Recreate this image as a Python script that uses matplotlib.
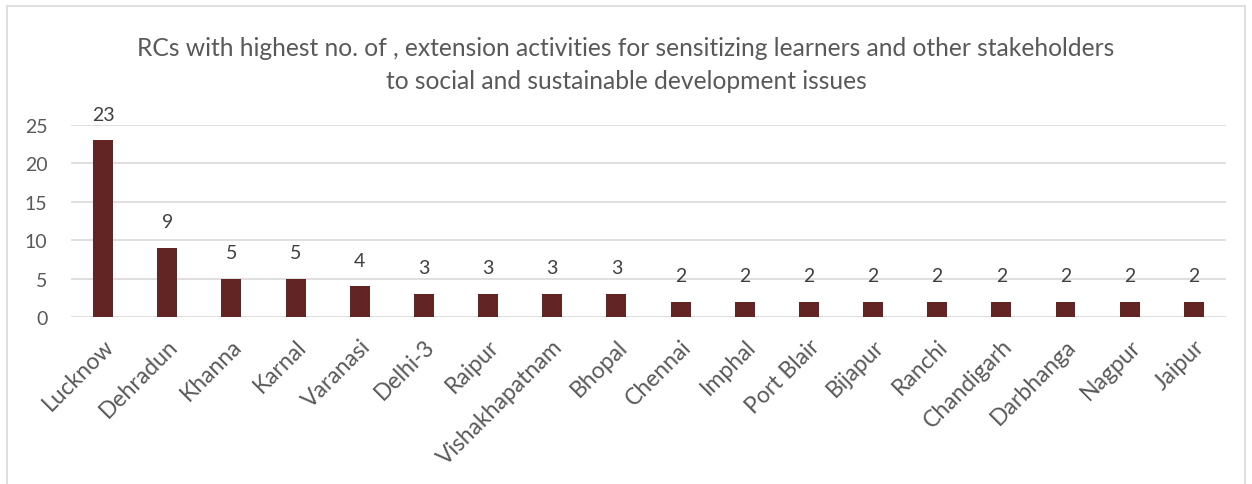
import matplotlib
matplotlib.use("Agg")
import matplotlib.pyplot as plt
import matplotlib.transforms as mtransforms
from matplotlib.patches import Rectangle

categories = ["Lucknow", "Dehradun", "Khanna", "Karnal", "Varanasi", "Delhi-3", "Raipur",
              "Vishakhapatnam", "Bhopal", "Chennai", "Imphal", "Port Blair", "Bijapur",
              "Ranchi", "Chandigarh", "Darbhanga", "Nagpur", "Jaipur"]
values = [23, 9, 5, 5, 4, 3, 3, 3, 3, 2, 2, 2, 2, 2, 2, 2, 2, 2]
yticks = [0, 5, 10, 15, 20, 25]
title = ("RCs with highest no. of , extension activities for sensitizing learners and other stakeholders\n"
         "to social and sustainable development issues")

plt.rcParams['font.family'] = ['Lato', 'DejaVu Sans']
TXT = '#595959'
BAR = '#632523'
GRID = '#d9d9d9'

fig = plt.figure(figsize=(12.52, 4.85), dpi=100)
ax = fig.add_axes([0.0567, 0.3443, 0.9225, 0.396])

x = list(range(len(categories)))
bars = ax.bar(x, values, width=0.31, color=BAR, zorder=3)
for xi, v in zip(x, values):
    ax.annotate(str(v), (xi, v), xytext=(0, 18.7), textcoords='offset points',
                ha='center', va='center', fontsize=14, color='#404040')

ax.set_xlim(-0.5, len(categories) - 0.5)
ax.set_ylim(0, 25)
ax.set_yticks(yticks)
ax.set_yticklabels([str(t) for t in yticks], fontsize=14, color=TXT)
ax.set_xticks(x)
ax.set_xticklabels(categories, rotation=45, ha='right', rotation_mode='anchor', fontsize=16.5, color=TXT)
shift = mtransforms.ScaledTranslation(-4/100, -2/100, fig.dpi_scale_trans)
for lbl in ax.get_xticklabels():
    lbl.set_transform(lbl.get_transform() + shift)
ax.tick_params(axis='both', length=0)
ax.tick_params(axis='x', pad=13)
ax.tick_params(axis='y', pad=17)
ax.grid(axis='y', color=GRID, linewidth=1.2, zorder=0)
for s in ax.spines.values():
    s.set_visible(False)

fig.text(0.5, 0.866, title, ha='center', va='center', fontsize=17.7, color=TXT, linespacing=1.5)

fig.patches.append(Rectangle((7/1252, -0.1), 1238/1252, 1 - 7/485 + 0.1, transform=fig.transFigure,
                             fill=False, edgecolor='#d9d9d9', linewidth=1.2))

fig.savefig("out.png", dpi=100)
